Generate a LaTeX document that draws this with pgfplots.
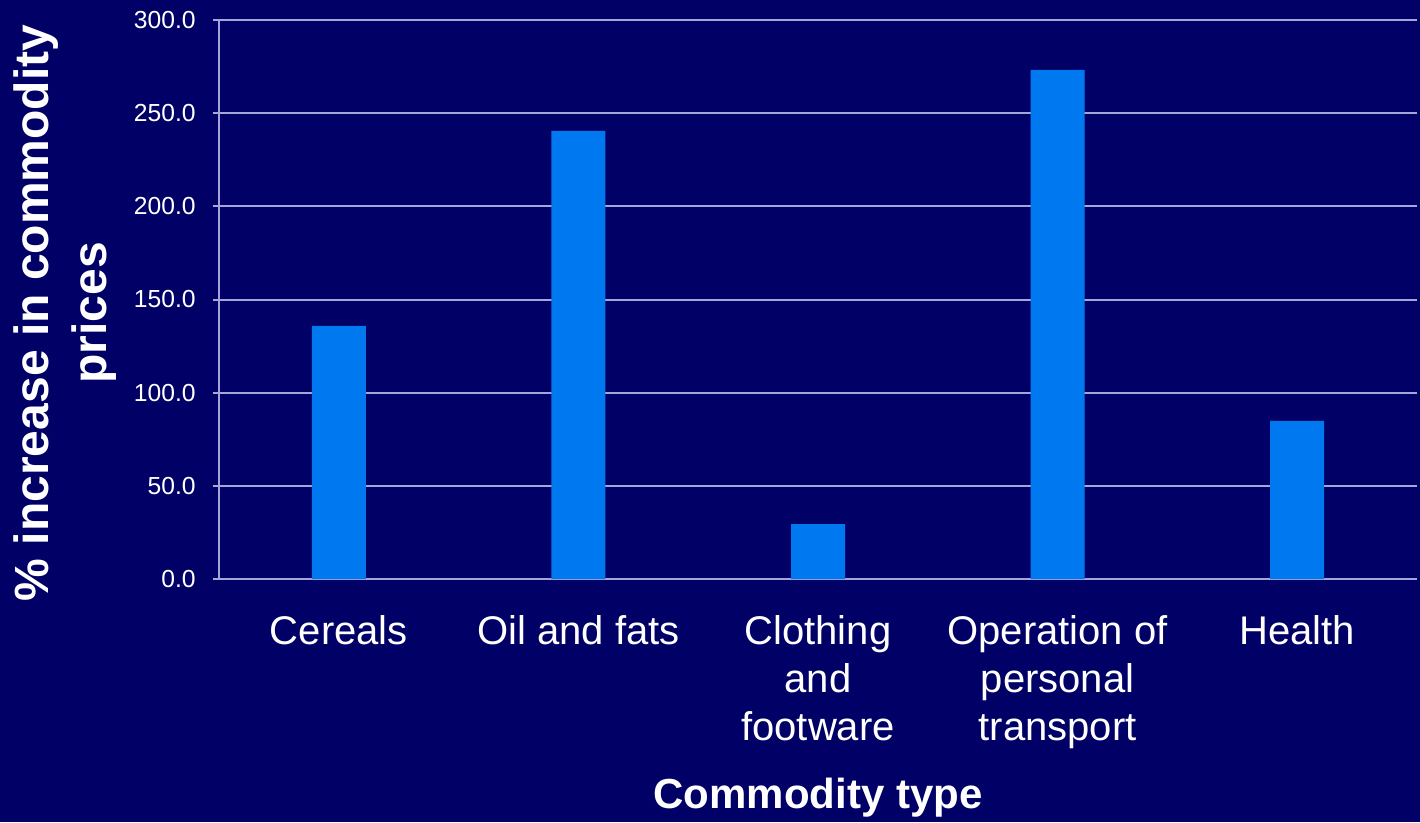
\documentclass[border=0pt]{standalone}
\usepackage{fontspec}
\setmainfont{Liberation Sans}
\usepackage{pgfplots}
\pgfplotsset{compat=1.18}
\definecolor{bgnavy}{RGB}{0,0,102}
\definecolor{barblue}{RGB}{0,120,240}
\definecolor{gridlav}{RGB}{165,165,215}
\begin{document}
\begin{tikzpicture}
\fill[bgnavy] (0,0) rectangle (1065pt,616.5pt);
\useasboundingbox (0,0) rectangle (1065pt,616.5pt);
\begin{axis}[
  at={(164.25pt,182.25pt)}, anchor=south west,
  scale only axis, width=898.5pt, height=419.25pt,
  ybar, bar width=40.5pt, bar shift=0pt,
  xmin=-0.5, xmax=4.5, ymin=0, ymax=300,
  xtick={0,1,2,3,4},
  xticklabels={Cereals, Oil and fats, {Clothing\\and\\footware}, {Operation of\\personal\\transport}, Health},
  xticklabel style={font=\fontsize{30}{36}\selectfont, align=center, text=white, anchor=north, yshift=-19.5pt},
  ytick={0,50,100,150,200,250,300},
  yticklabel style={font=\fontsize{18.5}{21}\selectfont, text=white, xshift=-9.5pt,
    /pgf/number format/.cd, fixed, fixed zerofill, precision=1, assume math mode=true},
  axis x line*=bottom, axis y line*=left,
  axis line style={gridlav, line width=1.5pt},
  ymajorgrids, grid style={gridlav, line width=1.5pt},
  xtick style={draw=none},
  ytick style={gridlav, line width=1.5pt},
  tick align=outside, major tick length=4.5pt,
  xlabel={Commodity type},
  xlabel style={font=\bfseries\fontsize{31.5}{37}\selectfont, text=white, at={(axis description cs:0.5,-0.4097)}, anchor=base},
  ylabel={\% increase in commodity\\prices},
  ylabel style={font=\bfseries\fontsize{36}{43}\selectfont, text=white, align=center, at={(axis description cs:-0.1285,0.476)}, anchor=center},
]
\addplot[fill=barblue, draw=none] coordinates {(0,135.8) (1,240.5) (2,29.5) (3,273.2) (4,84.8)};
\end{axis}
\end{tikzpicture}
\end{document}
